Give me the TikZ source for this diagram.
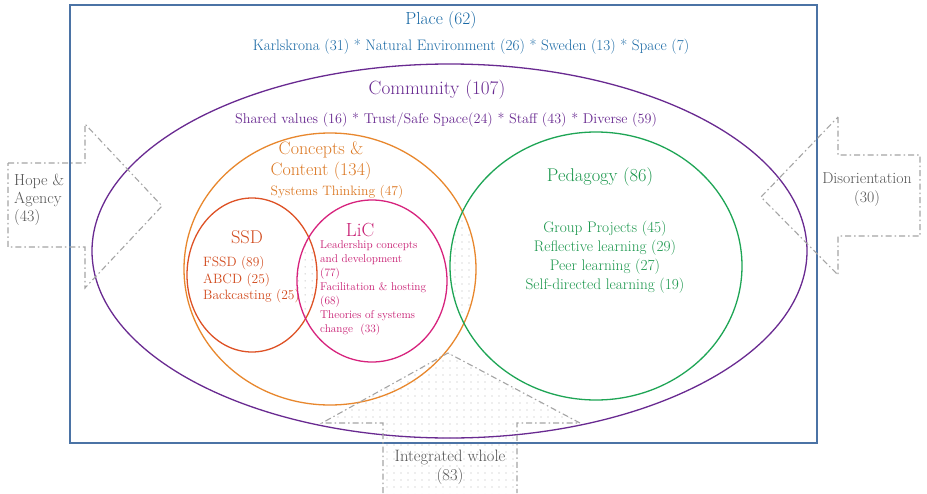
\documentclass[tikz,border=0pt]{standalone}
\usetikzlibrary{patterns.meta}
\definecolor{placeblue}{RGB}{25,105,165}
\definecolor{frameblue}{RGB}{75,115,165}
\definecolor{commpurple}{RGB}{105,42,145}
\definecolor{ccorange}{RGB}{232,135,45}
\definecolor{cctext}{RGB}{220,120,35}
\definecolor{ssdred}{RGB}{222,82,38}
\definecolor{ssdtext}{RGB}{210,75,30}
\definecolor{licmag}{RGB}{215,35,125}
\definecolor{lictext}{RGB}{200,30,115}
\definecolor{pedgreen}{RGB}{30,165,85}
\definecolor{pedtext}{RGB}{25,150,75}
\definecolor{arrgray}{RGB}{165,165,165}
\definecolor{txtgray}{RGB}{85,85,85}
\tikzset{
  dd/.style={draw=arrgray, line width=1.1pt, dash pattern=on 6pt off 3pt on 1.5pt off 3pt},
  dotfill/.style={pattern={Dots[distance=6.5pt,radius=0.65pt]}, pattern color=gray!55},
  lbl/.style={inner sep=0pt, align=center},
  lbll/.style={inner sep=0pt, align=left, anchor=west},
  ring/.style={line width=1.3pt},
}
\begin{document}
\begin{tikzpicture}[x=1pt,y=-1pt]
\useasboundingbox (0,0) rectangle (927,493);
\fill[white] (0,0) rectangle (927,493);

% dotted lenses
\begin{scope}
  \clip (252,275) ellipse [x radius=65pt, y radius=77pt];
  \fill[dotfill] (372,281) ellipse [x radius=75pt, y radius=81pt];
\end{scope}
\begin{scope}
  \clip (330,269) ellipse [x radius=146pt, y radius=136pt];
  \fill[dotfill] (596,266) ellipse [x radius=146pt, y radius=134pt];
\end{scope}
% integrated whole arrow fill
\fill[dotfill] (383,493) -- (383,423) -- (322,423) -- (448,353) -- (580,423) -- (517,423) -- (517,493) -- cycle;

% Place frame
\draw[frameblue, line width=1.3pt] (70,5) rectangle (817,443);
\node[lbl, text=placeblue, font=\fontsize{17.5}{20}\selectfont] (place) at (441,20) {Place (62)};
\node[lbl, text=placeblue, font=\fontsize{15.2}{17}\selectfont] (placeitems) at (471,47)
  {Karlskrona (31) * Natural Environment (26) * Sweden (13) * Space (7)};

% Community ellipse
\draw[commpurple, ring] (449.5,251) ellipse [x radius=357.5pt, y radius=187pt];
\node[lbl, text=commpurple, font=\fontsize{19.2}{22}\selectfont] (comm) at (437,90) {Community (107)};
\node[lbl, text=commpurple, font=\fontsize{14.2}{17}\selectfont] (commitems) at (446,120)
  {Shared values (16) * Trust/Safe Space(24) * Staff (43) * Diverse (59)};

% Concepts & Content
\draw[ccorange, ring] (330,269) ellipse [x radius=146pt, y radius=136pt];
\node[lbl, text=cctext, font=\fontsize{18}{21}\selectfont] (cc) at (321,161) {Concepts \&\\Content (134)};
\node[lbl, text=cctext, font=\fontsize{13.6}{15}\selectfont] (st) at (337,192) {Systems Thinking (47)};

% SSD
\draw[ssdred, ring] (252,275) ellipse [x radius=65pt, y radius=77pt];
\node[lbl, text=ssdtext, font=\fontsize{18.5}{22}\selectfont] (ssd) at (247,237) {SSD};
\node[lbll, text=ssdtext, font=\fontsize{13.5}{16.5}\selectfont] (ssditems) at (203,280)
  {FSSD (89)\\ABCD (25)\\Backcasting (25)};

% LiC
\draw[licmag, ring] (372,281) ellipse [x radius=75pt, y radius=81pt];
\node[lbl, text=lictext, font=\fontsize{19}{22}\selectfont] (lic) at (360,230) {LiC};
\node[lbll, text=lictext, font=\fontsize{11.3}{14}\selectfont] (licitems) at (320,288)
  {Leadership concepts\\and development\\(77)\\Facilitation \& hosting\\(68)\\Theories of systems\\change~~(33)};

% Pedagogy
\draw[pedgreen, ring] (596,266) ellipse [x radius=146pt, y radius=134pt];
\node[lbl, text=pedtext, font=\fontsize{18.4}{20}\selectfont] (ped) at (600,177) {Pedagogy (86)};
\node[lbl, text=pedtext, font=\fontsize{15.3}{19}\selectfont] (peditems) at (605,257)
  {Group Projects (45)\\Reflective learning (29)\\Peer learning (27)\\Self-directed learning (19)};

% Hope & Agency arrow
\draw[dd] (8,163) -- (85,163) -- (85,124) -- (162,206) -- (85,288) -- (85,247) -- (8,247) -- cycle;
\node[lbll, text=txtgray, font=\fontsize{16}{18}\selectfont] (hope) at (14,200) {Hope \&\\Agency\\(43)};

% Disorientation arrow
\draw[dd] (838,117) -- (838,155) -- (920,155) -- (920,236) -- (838,236) -- (838,275) -- (761,197) -- cycle;
\node[lbl, text=txtgray, font=\fontsize{15.8}{19}\selectfont] (dis) at (867,190) {Disorientation\\(30)};

% Integrated whole arrow
\draw[dd] (383,493) -- (383,423) -- (322,423) -- (448,353) -- (580,423) -- (517,423) -- (517,493);
\node[lbl, text=txtgray, font=\fontsize{16.5}{19}\selectfont] (iw) at (450,467) {Integrated whole\\(83)};
\end{tikzpicture}
\end{document}
